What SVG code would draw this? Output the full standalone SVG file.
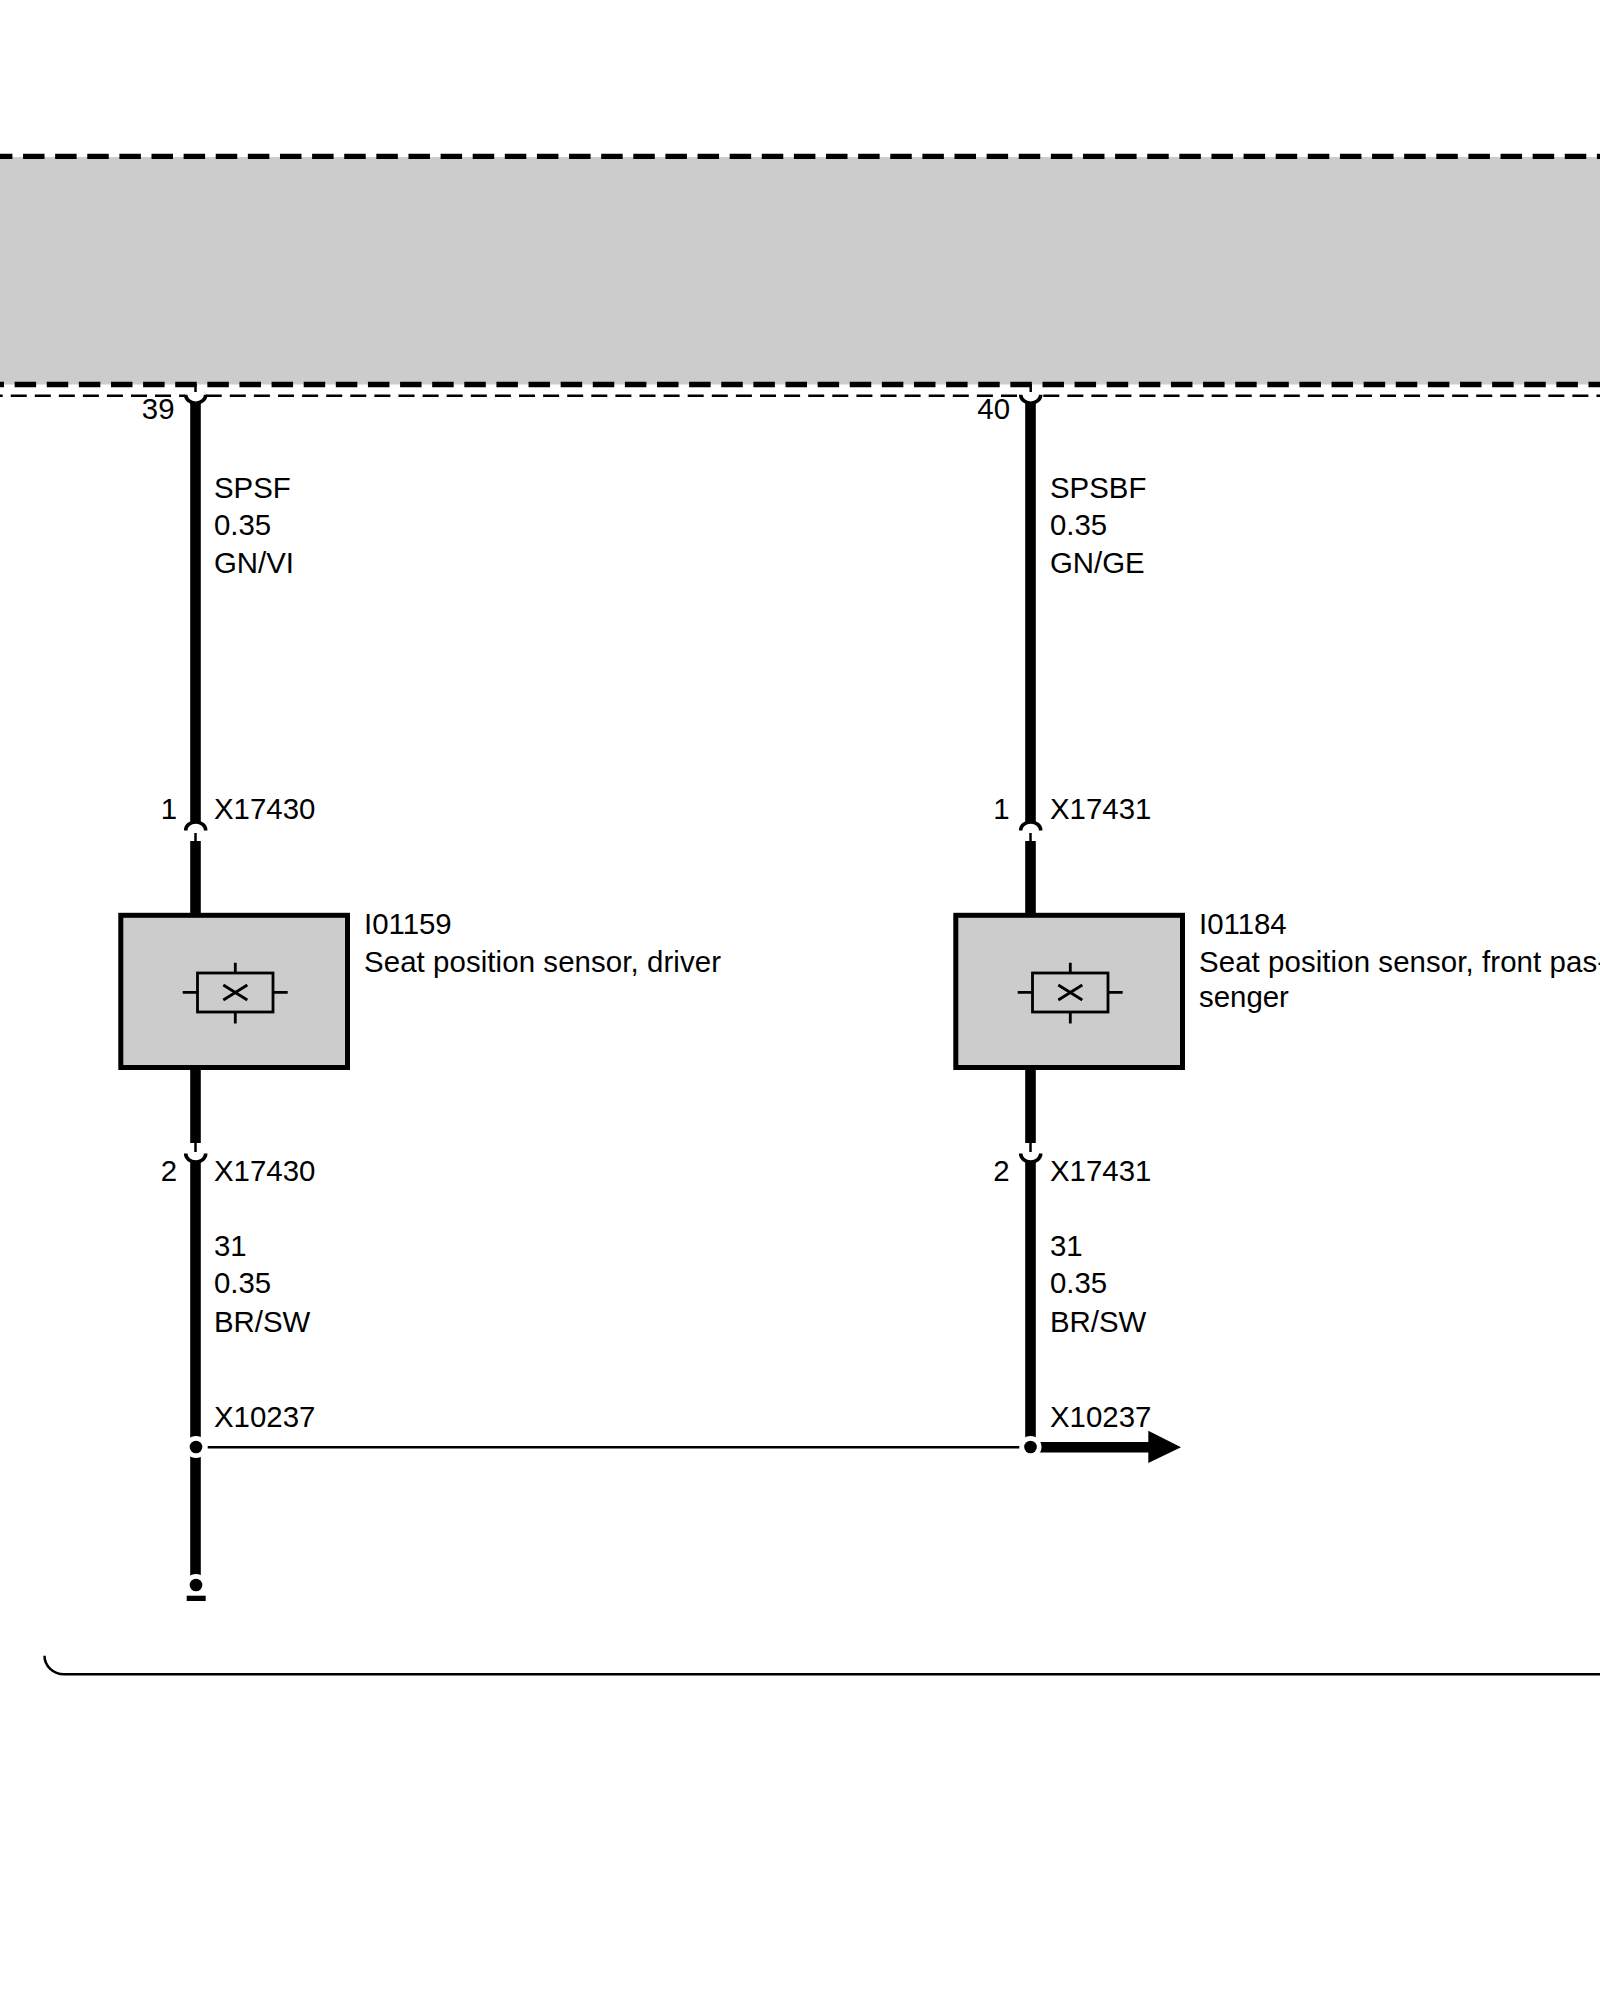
<svg xmlns="http://www.w3.org/2000/svg" width="1600" height="2000" viewBox="0 0 1600 2000">
<style>
text{font-family:"Liberation Sans",Arial,sans-serif;font-size:29.4px;fill:#000}
.e{text-anchor:end}
.l{letter-spacing:.09px}
.w{stroke:#000;stroke-width:10.6;fill:none}
.a{stroke:#000;stroke-width:3.6;fill:#fff}
.s{stroke:#000;stroke-width:2.5;fill:none}
.d{stroke:#000;stroke-width:2.6;stroke-dasharray:16 8.05}
.h{fill:#fff}
.box{fill:#ccc;stroke:#000;stroke-width:5}
.sym{fill:none;stroke:#000;stroke-width:2.8}
</style>
<defs>
<g id="sensor">
<rect class="box" x="120.8" y="915.3" width="226.7" height="152.2"/>
<rect class="sym" x="197.5" y="973" width="75.5" height="39"/>
<path class="sym" d="M182.7 992.3H197.5M273 992.3H287.7M235.3 962.7V973M235.3 1012V1023.5M223.3 985L247.3 1000M223.3 1000L247.3 985"/>
</g>
</defs>
<g id="module">
<rect x="0" y="157" width="1600" height="227.5" fill="#ccc"/>
<line x1="-9.1" y1="156.4" x2="1600" y2="156.4" stroke="#000" stroke-width="5.4" stroke-dasharray="21.5 10.62"/>
<line x1="-17.5" y1="384.5" x2="1600" y2="384.5" stroke="#000" stroke-width="5.4" stroke-dasharray="21.5 10.62"/>
<line class="d" x1="-13.3" y1="395.7" x2="185" y2="395.7"/>
<line class="d" x1="205.7" y1="395.7" x2="1020" y2="395.7" style="stroke-dasharray:16 8.1"/>
<line class="d" x1="1043.3" y1="395.7" x2="1600" y2="395.7"/>
</g>
<g id="connectors">
<g id="wire-39">
<path class="a" d="M185.7 394.7A10 8.5 0 0 0 205.7 394.7"/>
<path class="s" d="M195.5 384V392"/>
<line class="w" x1="195.5" y1="402" x2="195.5" y2="826"/>
<path class="a" d="M185.7 830.5A10 8.5 0 0 1 205.7 830.5"/>
<path class="s" d="M195.5 833V841"/>
<line class="w" x1="195.5" y1="841" x2="195.5" y2="914"/>
</g>
<g id="wire-39-lower">
<line class="w" x1="195.5" y1="1068" x2="195.5" y2="1143"/>
<path class="s" d="M195.5 1143V1152"/>
<path class="a" d="M185.7 1153.5A10 8.5 0 0 0 205.7 1153.5"/>
<line class="w" x1="195.5" y1="1161" x2="195.5" y2="1585"/>
<circle class="h" cx="196" cy="1447" r="11"/>
<circle cx="196" cy="1447" r="6.3"/>
<circle class="h" cx="196" cy="1585" r="11"/>
<circle cx="196" cy="1585" r="6.3"/>
<rect x="186.7" y="1595.7" width="19" height="5.3"/>
</g>
<g id="wire-40">
<path class="a" d="M1020.7 394.7A10 8.5 0 0 0 1040.7 394.7"/>
<path class="s" d="M1030.7 384V392"/>
<line class="w" x1="1030.5" y1="402" x2="1030.5" y2="826"/>
<path class="a" d="M1020.7 830.5A10 8.5 0 0 1 1040.7 830.5"/>
<path class="s" d="M1030.5 833V841"/>
<line class="w" x1="1030.5" y1="841" x2="1030.5" y2="914"/>
</g>
<g id="arrow">
<rect x="1030" y="1442" width="120" height="10.5"/>
<polygon points="1148.3,1430.7 1181,1447.2 1148.3,1463"/>
</g>
<g id="wire-40-lower">
<line class="w" x1="1030.5" y1="1068" x2="1030.5" y2="1143"/>
<path class="s" d="M1030.5 1143V1152"/>
<path class="a" d="M1020.7 1153.5A10 8.5 0 0 0 1040.7 1153.5"/>
<line class="w" x1="1030.5" y1="1161" x2="1030.5" y2="1447"/>
<circle class="h" cx="1030.5" cy="1447" r="11"/>
<circle cx="1030.5" cy="1447" r="6.3"/>
</g>
<line id="link" class="s" x1="207.7" y1="1447.3" x2="1019.3" y2="1447.3"/>
<path id="bracket" class="s" d="M44.5 1655.7A19.5 18.6 0 0 0 64 1674.3H1600"/>
</g>
<g id="I01159">
<use href="#sensor"/>
<text x="364" y="934">I01159</text>
<text class="l" x="364" y="971.7">Seat position sensor, driver</text>
</g>
<g id="I01184">
<use href="#sensor" x="835"/>
<text x="1199" y="934">I01184</text>
<text class="l" x="1199" y="971.7">Seat position sensor, front pas-</text>
<text x="1199" y="1006.7">senger</text>
</g>
<g id="labels-39">
<text class="e" x="174.5" y="419">39</text>
<text x="214" y="498">SPSF</text>
<text x="214" y="535">0.35</text>
<text x="214" y="572.5">GN/VI</text>
<text class="e" x="177" y="819">1</text>
<text x="214" y="819">X17430</text>
<text class="e" x="177" y="1181">2</text>
<text x="214" y="1181">X17430</text>
<text x="214" y="1255.7">31</text>
<text x="214" y="1292.7">0.35</text>
<text x="214" y="1332.3">BR/SW</text>
<text x="214" y="1426.7">X10237</text>
</g>
<g id="labels-40">
<text class="e" x="1010" y="419">40</text>
<text x="1050" y="498">SPSBF</text>
<text x="1050" y="535">0.35</text>
<text x="1050" y="572.5">GN/GE</text>
<text class="e" x="1009.5" y="819">1</text>
<text x="1050" y="819">X17431</text>
<text class="e" x="1009.5" y="1181">2</text>
<text x="1050" y="1181">X17431</text>
<text x="1050" y="1255.7">31</text>
<text x="1050" y="1292.7">0.35</text>
<text x="1050" y="1332.3">BR/SW</text>
<text x="1050" y="1426.7">X10237</text>
</g>
</svg>
